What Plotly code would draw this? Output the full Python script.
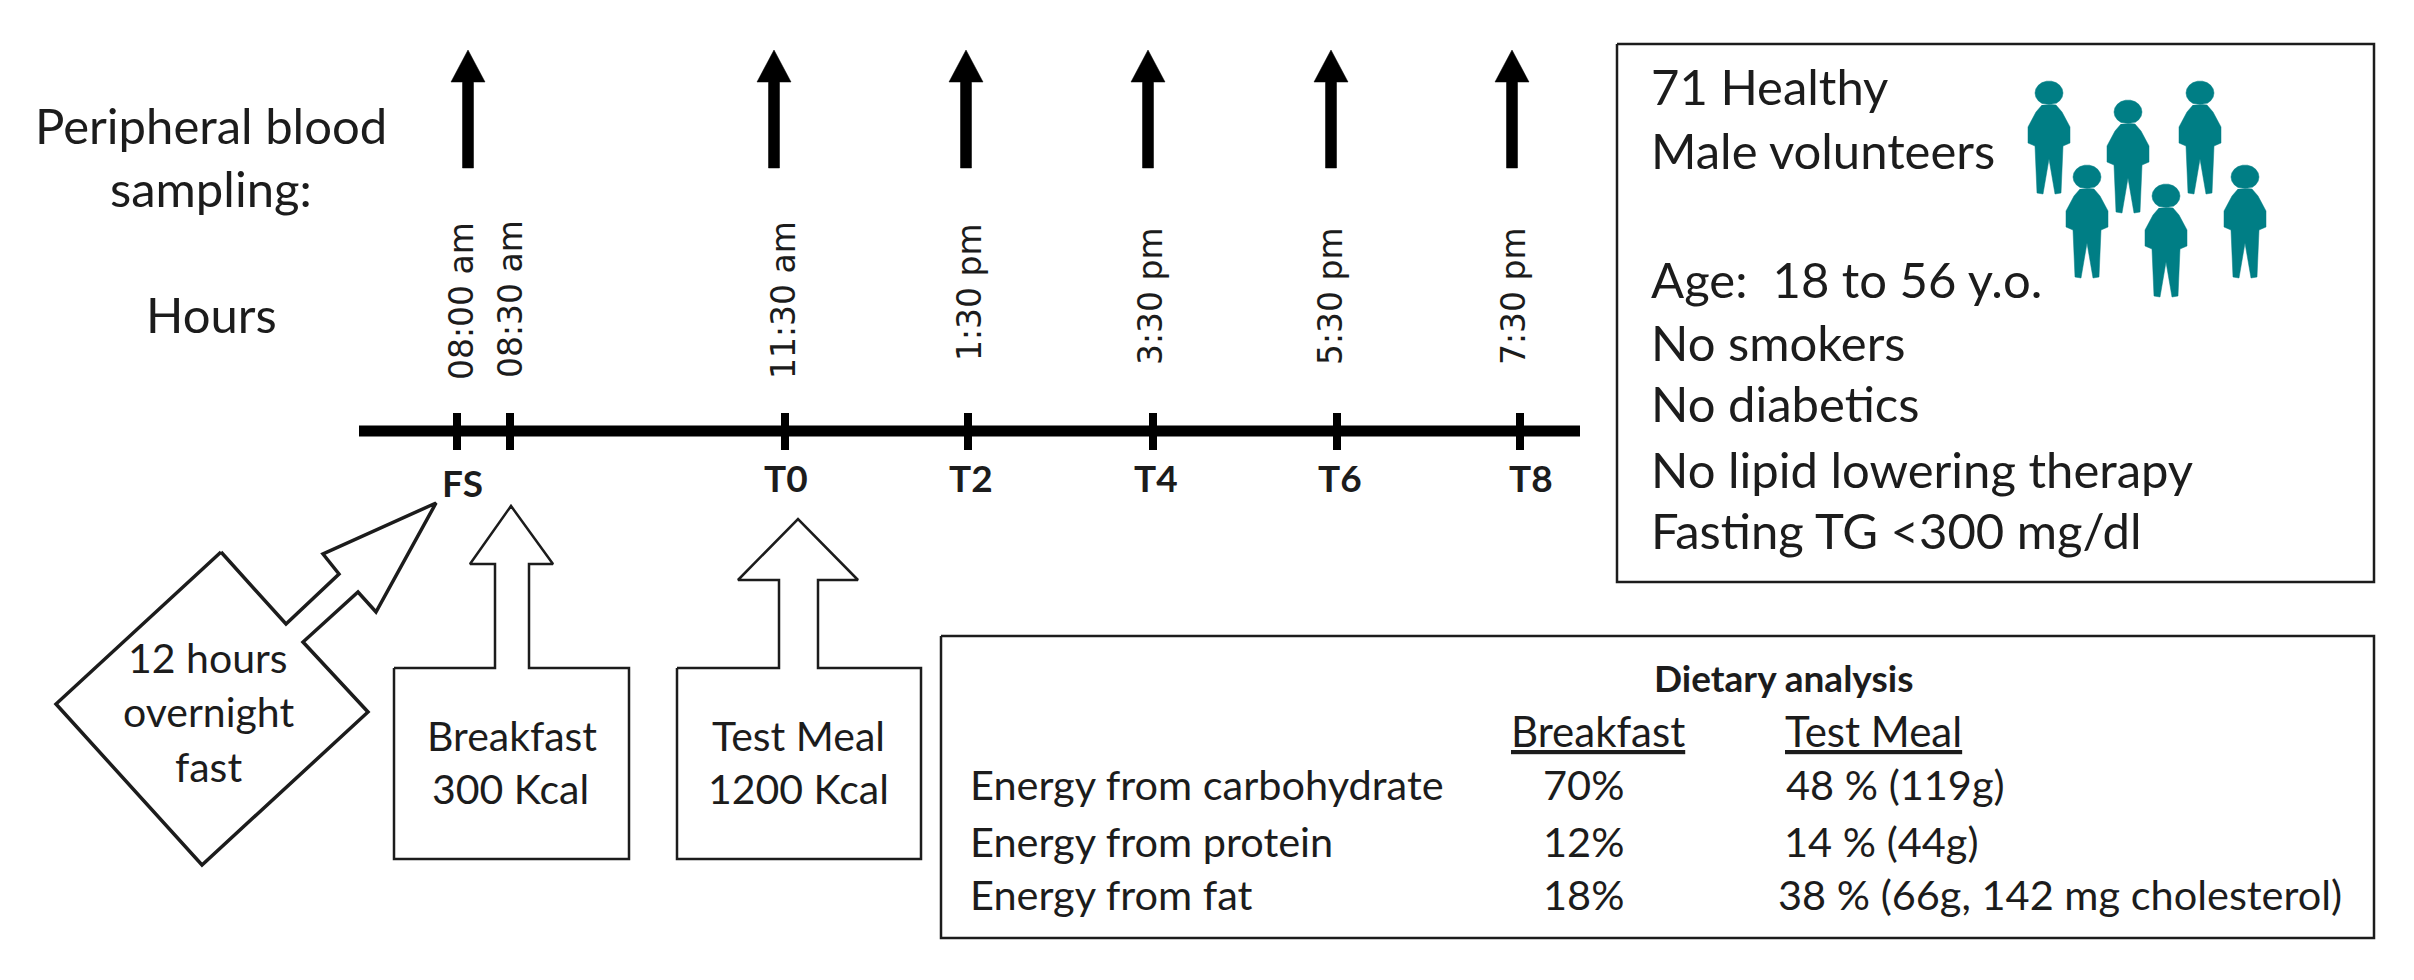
import numpy as np
import plotly.graph_objects as go

# everything is in image pixels, y pointing down
WIDTH = 2414
HEIGHT = 980

sampling_x = [468, 774, 966, 1148, 1331, 1512]
tick_x = [457, 510, 785, 968, 1153, 1337, 1520]

time_labels = ["08:00 am", "08:30 am", "11:30 am", "1:30 pm", "3:30 pm", "5:30 pm", "7:30 pm"]
time_x = [461, 510, 783, 969, 1150, 1330, 1513]
time_y = [301, 299, 300, 292, 296, 296, 296]

point_labels = ["FS", "T0", "T2", "T4", "T6", "T8"]
point_x = [462, 786, 971, 1156, 1340, 1531]
point_y = [482, 477, 477, 477, 477, 477]

side_labels = ["Peripheral blood", "sampling:", "Hours"]
side_y = [125, 188, 314]

fast_x = [221, 286, 339, 323, 436, 376, 358, 303, 368, 202, 56, 221]
fast_y = [552, 624, 574, 554, 503, 612, 592, 642, 712, 865, 704, 552]
fast_labels = ["12 hours", "overnight", "fast"]
fast_label_y = [657, 711, 766]

breakfast_x = [394, 495, 495, 470, 511, 553, 529, 529, 629, 629, 394, 394]
breakfast_y = [668, 668, 564, 564, 506, 564, 564, 668, 668, 859, 859, 668]
meal_x = [677, 779, 779, 738, 798, 858, 818, 818, 921, 921, 677, 677]
meal_y = [668, 668, 580, 580, 519, 580, 580, 668, 668, 859, 859, 668]

volunteer_lines = ["71 Healthy", "Male volunteers", "Age:  18 to 56 y.o.", "No smokers",
                   "No diabetics", "No lipid lowering therapy", "Fasting TG &lt;300 mg/dl"]
volunteer_y = [86, 150, 279, 342, 403, 469, 530]

people_x = [2049, 2128, 2200, 2087, 2166, 2245]
people_top = [81, 100, 81, 165, 184, 165]

diet_rows = ["Energy from carbohydrate", "Energy from protein", "Energy from fat"]
breakfast_share = ["70%", "12%", "18%"]
meal_share = ["48 % (119g)", "14 % (44g)", "38 % (66g, 142 mg cholesterol)"]
meal_share_x = [1784, 1782, 1776]
diet_y = [784, 841, 894]

INK = "#1c1c1c"
TEAL = "#007e85"
SANS = "Lato"
TIME_FONT = "DejaVu Sans"
LABEL_SIZE = 41


def outline(fig, xs, ys, width=2.5, color=INK):
    fig.add_trace(go.Scatter(x=xs, y=ys, mode="lines", line=dict(color=color, width=width),
                             hoverinfo="skip", showlegend=False))


def solid(fig, xs, ys, color):
    fig.add_trace(go.Scatter(x=xs, y=ys, mode="lines", fill="toself", fillcolor=color,
                             line=dict(color=color, width=0.5),
                             hoverinfo="skip", showlegend=False))


def label(fig, text, x, y, size=LABEL_SIZE, anchor="center", family=SANS, angle=0):
    fig.add_annotation(x=x, y=y, text=text, showarrow=False, xanchor=anchor, yanchor="middle",
                       textangle=angle, font=dict(family=family, size=size, color=INK))


fig = go.Figure()

# sampling arrows
for x in sampling_x:
    solid(fig, [x - 5.5, x - 5.5, x - 17, x, x + 17, x + 5.5, x + 5.5, x - 5.5],
          [168, 82, 82, 50, 82, 82, 168, 168], "#000000")

# timeline
outline(fig, [359, 1580], [431, 431], width=11, color="#000000")
for x in tick_x:
    outline(fig, [x, x], [413, 450], width=8, color="#000000")

for text, x, y in zip(time_labels, time_x, time_y):
    label(fig, text, x, y, size=33, family=TIME_FONT, angle=-90)
for text, x, y in zip(point_labels, point_x, point_y):
    label(fig, f"<b>{text}</b>", x, y, size=37)
for text, y in zip(side_labels, side_y):
    label(fig, text, 211, y, size=49)

# callouts
outline(fig, fast_x, fast_y, width=3.5)
outline(fig, breakfast_x, breakfast_y)
outline(fig, meal_x, meal_y)
for text, y in zip(fast_labels, fast_label_y):
    label(fig, text, 208, y)
label(fig, "Breakfast", 512, 735)
label(fig, "300 Kcal", 510, 788)
label(fig, "Test Meal", 798, 735)
label(fig, "1200 Kcal", 798, 788)

# volunteers box
outline(fig, [1617, 2374, 2374, 1617, 1617], [44, 44, 582, 582, 44])
for text, y in zip(volunteer_lines, volunteer_y):
    label(fig, text, 1649, y, size=49, anchor="left")

# little figures: head ellipse plus a mirrored body outline
theta = np.radians(np.arange(-60, 241, 20))
head_dx = 14 * np.cos(theta)
head_dy = 12 - 12 * np.sin(theta)
body_dx = np.array([7, 13, 21, 21, 14, 12, 6, 0, -6, -12, -14, -21, -21, -13, -7])
body_dy = np.array([24, 31, 46, 62, 65, 112, 113, 78, 113, 112, 65, 62, 46, 31, 24])
person_dx = np.concatenate([head_dx, body_dx])
person_dy = np.concatenate([head_dy, body_dy])
for x, top in zip(people_x, people_top):
    solid(fig, x + person_dx, top + person_dy, TEAL)

# dietary table
outline(fig, [941, 2374, 2374, 941, 941], [636, 636, 938, 938, 636])
label(fig, "<b>Dietary analysis</b>", 1783, 677, size=37)
label(fig, "<u>Breakfast</u>", 1598, 731, size=42)
label(fig, "<u>Test Meal</u>", 1873, 731, size=42)
for text, y in zip(diet_rows, diet_y):
    label(fig, text, 968, y, size=41.5, anchor="left")
for text, y in zip(breakfast_share, diet_y):
    label(fig, text, 1541, y, size=41.5, anchor="left")
for text, x, y in zip(meal_share, meal_share_x, diet_y):
    label(fig, text, x, y, size=41.5, anchor="left")

fig.update_layout(
    width=WIDTH, height=HEIGHT, margin=dict(l=0, r=0, t=0, b=0),
    paper_bgcolor="white", plot_bgcolor="white", showlegend=False,
    xaxis=dict(range=[0, WIDTH], visible=False),
    yaxis=dict(range=[HEIGHT, 0], visible=False),
)
fig.write_html("out.html", config={"displayModeBar": False},
               post_script="document.body.style.margin = '0';")
